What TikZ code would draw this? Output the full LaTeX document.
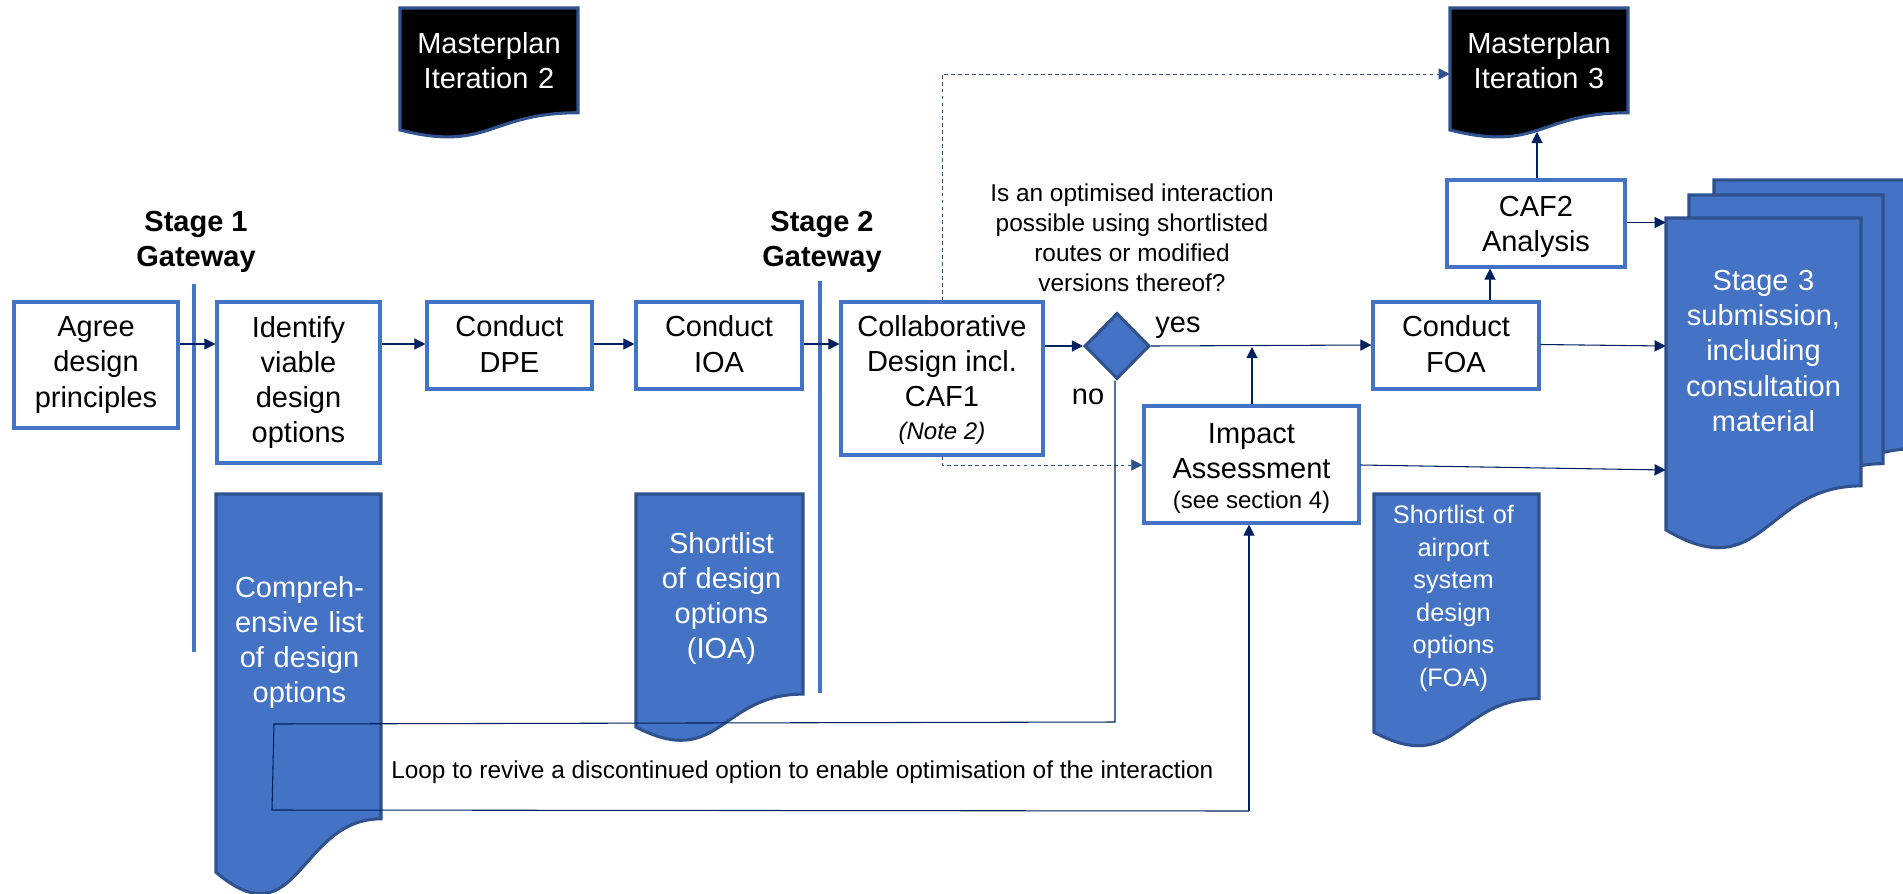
\documentclass[tikz,border=0pt]{standalone}
\usepackage{fontspec}
\setmainfont{Liberation Sans}
\usetikzlibrary{arrows.meta,shapes.geometric}
\definecolor{boxblue}{HTML}{4472C4}
\definecolor{edgeblue}{HTML}{2F528F}
\definecolor{navy}{HTML}{002060}
% sizes in reference pixels (1px = .75pt)
\newcommand\fbig{\fontsize{21.75}{26.3}\selectfont}
\newcommand\fmid{\fontsize{18.3}{22.5}\selectfont}
\newcommand\fsub{\fontsize{19}{24.4}\selectfont}
\newcommand\lift[1]{\rule{0pt}{#1}}
\tikzset{
  procbox/.style={draw=boxblue,line width=2.3pt,fill=white,align=center,inner sep=0pt,font=\fbig,text=black},
  docbody/.style={draw=edgeblue,line width=2.3pt,fill=boxblue},
  docblack/.style={draw=edgeblue,line width=2.3pt,fill=black},
  doctext/.style={align=center,inner sep=0pt,font=\fbig,text=white},
  plainlabel/.style={align=center,inner sep=0pt,font=\fbig,text=black},
  asklabel/.style={align=center,inner sep=0pt,font=\fmid,text=black},
  gate/.style={draw=boxblue,line width=2.3pt},
  conn/.style={draw=navy,line width=.8pt,-{Triangle[length=8.4pt,width=8.4pt]}},
  looplink/.style={draw=navy,line width=.8pt},
  dashlink/.style={draw=edgeblue,line width=.6pt,dash pattern=on 2.8pt off 2.4pt,-{Triangle[length=8.4pt,width=8.4pt]}},
}
\newcommand\bx[7][]{%
  \pgfmathsetmacro\bw{(#5-#3)*.75}\pgfmathsetmacro\bh{(#6-#4)*.75}%
  \node[procbox,minimum width=\bw pt,minimum height=\bh pt,#1] (#2) at ({(#3+#5)/2},{(#4+#6)/2}) {#7};}
% flowchart-document outline: x1,x2,top,height,style
\newcommand\docshape[5]{%
  \pgfmathsetmacro\dmid{(#1+#2)/2}\pgfmathsetmacro\dyr{#3+.802*#4}%
  \pgfmathsetmacro\dyc{#3+1.107*#4}\pgfmathsetmacro\dyl{#3+.934*#4}%
  \draw[#5] (#1,#3) -- (#2,#3) -- (#2,\dyr) .. controls (\dmid,\dyr) and (\dmid,\dyc) .. (#1,\dyl) -- cycle;}
\newcommand\doctxt[6]{% name,x1,x2,ycentre,text style,text
  \pgfmathsetmacro\dw{(#3-#2)*.75}%
  \node[doctext,#5,text width=\dw pt] (#1) at ({(#2+#3)/2},#4) {#6};}
\begin{document}
\begin{tikzpicture}[x=.75pt,y=-.75pt]
\useasboundingbox (0,0) rectangle (1903,893);
\clip (0,0) rectangle (1903,893);
% documents
\docshape{400}{578}{8}{130.6}{docblack}
\docshape{1450}{1628}{8}{130.6}{docblack}
\docshape{1714}{1915}{180}{335}{docbody}
\docshape{1689}{1883}{195}{335}{docbody}
\docshape{1666}{1861}{218}{334}{docbody}
\docshape{216}{381}{494}{405}{docbody}
\docshape{636}{803}{494}{249.5}{docbody}
\docshape{1374}{1539}{494}{255}{docbody}
% gateway bars
\coordinate (g1a) at (194,284); \coordinate (g1b) at (194,652);
\coordinate (g2a) at (820,281); \coordinate (g2b) at (820,693);
\draw[gate] (g1a) -- (g1b);
\draw[gate] (g2a) -- (g2b);
% process boxes
\bx{agree}{14}{302}{178}{428}{Agree\\design\\principles}
\bx{identify}{217}{302}{380}{463}{Identify\\viable\\design\\options}
\bx[text depth=2.25pt]{dpe}{427}{302}{592}{389}{Conduct\\DPE}
\bx[text depth=2.25pt]{ioa}{636}{302}{802}{389}{Conduct\\IOA}
\bx{collab}{841}{302}{1043}{455}{\lift{18pt}Collaborative\\Design incl.\\CAF1\\[-1.8pt]{\fontsize{18}{22}\selectfont\itshape (Note 2)}}
\bx{impact}{1144}{406}{1359}{523}{\lift{21.1pt}Impact\\Assessment\\[-3.7pt]{\fontsize{18}{22}\selectfont (see section 4)}}
\bx[text depth=2.25pt]{foa}{1373}{302}{1539}{389}{Conduct\\FOA}
\bx{caf}{1447}{180}{1625}{267}{\lift{20.2pt}CAF2\\Analysis}
\node[diamond,aspect=1,draw=edgeblue,line width=2.3pt,fill=boxblue,inner sep=0pt,minimum width=48.75pt,minimum height=49.5pt] (dia) at (1117,346) {};
% document texts
\doctxt{m2}{400}{578}{61}{}{Masterplan\\Iteration 2}
\doctxt{m3}{1450}{1628}{61}{}{Masterplan\\Iteration 3}
\doctxt{stage3}{1666}{1861}{351}{}{Stage 3\\submission,\\including\\consultation\\material}
\doctxt{comp}{217}{382}{642.5}{}{Compreh-\\ensive list\\of design\\options}
\doctxt{slioa}{638}{805}{598.5}{}{Shortlist\\of design\\options\\(IOA)}
\doctxt{slfoa}{1371}{1536}{598.5}{font=\fsub}{Shortlist of\\airport\\system\\design\\options\\(FOA)}
% labels
\node[plainlabel,font=\fbig\bfseries] (st1) at (196,242) {Stage 1\\Gateway};
\node[plainlabel,font=\fbig\bfseries] (st2) at (822,241.5) {Stage 2\\Gateway};
\node[asklabel] (ask) at (1132,238) {Is an optimised interaction\\possible using shortlisted\\routes or modified\\versions thereof?};
\node[plainlabel] (yes) at (1178,328) {yes};
\node[plainlabel] (no) at (1088,397) {no};
\node[asklabel,anchor=west] (loopl) at (391,772) {Loop to revive a discontinued option to enable optimisation of the interaction};
% connectors
\draw[conn] (agree.east |- 0,344) -- (identify.west |- 0,344);
\draw[conn] (identify.east |- 0,344) -- (dpe.west |- 0,344);
\draw[conn] (dpe.east |- 0,344) -- (ioa.west |- 0,344);
\draw[conn] (ioa.east |- 0,344) -- (collab.west |- 0,344);
\draw[conn] (collab.east |- dia.west) -- (dia.west);
\draw[conn] (dia.east) -- (foa.west |- 0,345);
\coordinate (joinyes) at (1252,347);
\draw[conn] (impact.north -| joinyes) -- (joinyes);
\draw[conn] (foa.north -| 1490,0) -- (caf.south -| 1490,0);
\coordinate (m3foot) at (1537,132);
\draw[conn] (caf.north -| m3foot) -- (m3foot);
\draw[conn] (caf.east |- 0,222.5) -- (stage3.west |- 0,222.5);
\draw[conn] (foa.east |- 0,344.5) -- (stage3.west |- 0,346);
\draw[conn] (impact.east |- 0,465) -- (stage3.west |- 0,470);
\draw[dashlink] (collab.north) |- (m3.west |- 0,74);
\draw[dashlink] (collab.south) |- (impact.west |- 0,465);
% loop
\coordinate (lpa) at (1115,722);
\coordinate (lpb) at (274,724);
\coordinate (lpc) at (272,810);
\coordinate (lpd) at (1249,811);
\draw[looplink] (dia.south -| lpa) -- (lpa) -- (lpb) -- (lpc) -- (lpd);
\draw[conn] (lpd) -- (impact.south -| lpd);
\end{tikzpicture}
\end{document}
